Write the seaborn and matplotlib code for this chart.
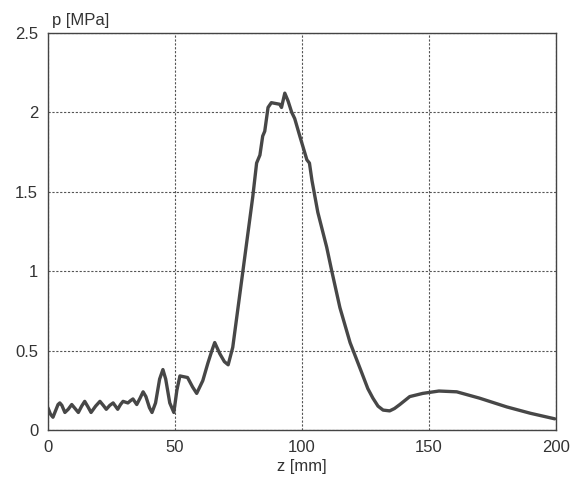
import matplotlib
matplotlib.use("Agg")
import matplotlib.pyplot as plt
import seaborn as sns
import pandas as pd

z_mm = [0, 1.0, 2, 3.0, 4.0, 4.7, 5.5, 6.7, 8.0, 9.4, 10.7, 12, 13.3, 14.5, 15.8, 17,
        18.8, 20.5, 21.8, 23, 24.4, 25.7, 26.6, 27.5, 28.6, 29.6, 31.5, 32.6, 33.5, 35,
        36.3, 37.5, 38.6, 40, 41, 42.4, 44, 45.3, 46.4, 48, 49.6, 50.8, 52, 55, 57, 58.6,
        61, 63, 64.6, 65.7, 67.7, 69.5, 71, 72.8, 76.8, 80.7,
        82.2, 83.5, 84.6, 85.4, 86.7, 88, 91.3, 92, 93.3, 94.6, 96, 97.2, 99.2, 102, 103,
        104, 106.3, 109.8, 111.8, 115, 119, 123.6, 126, 128, 130, 132, 134.6, 136.5, 138.6,
        142.5, 147.6, 154, 161, 170, 180.7, 190, 199.6]
p_mpa = [0.14, 0.10, 0.08, 0.12, 0.16, 0.17, 0.155, 0.11, 0.13, 0.16, 0.135, 0.11, 0.15,
         0.18, 0.145, 0.11, 0.15, 0.18, 0.155, 0.13, 0.155, 0.17, 0.15, 0.13, 0.16, 0.18,
         0.17, 0.185, 0.195, 0.16, 0.20, 0.24, 0.21, 0.14, 0.11, 0.17, 0.32, 0.38, 0.32,
         0.17, 0.11, 0.25, 0.34, 0.33, 0.27, 0.23, 0.31, 0.42, 0.50, 0.55, 0.48, 0.43, 0.41,
         0.52, 1.0, 1.47, 1.68, 1.73, 1.85, 1.88, 2.03, 2.06, 2.05, 2.03, 2.12, 2.07, 2.0,
         1.96, 1.85, 1.70, 1.68, 1.57, 1.37, 1.15, 1.0, 0.77, 0.55, 0.36, 0.26, 0.20, 0.15,
         0.125, 0.12, 0.135, 0.16, 0.21, 0.23, 0.245, 0.24, 0.20, 0.145, 0.105, 0.07]
x_ticks = [0, 50, 100, 150, 200]
y_ticks = [0, 0.5, 1, 1.5, 2, 2.5]
y_tick_labels = ["0", "0.5", "1", "1.5", "2", "2.5"]

sns.set_theme(style="white")
plt.rcParams['font.family'] = ['Liberation Sans', 'DejaVu Sans']

df = pd.DataFrame({"z": z_mm, "p": p_mpa})
fig = plt.figure(figsize=(5.7, 4.82), dpi=100)
ax = fig.add_axes([0.084, 0.108, 0.891, 0.824])
sns.lineplot(data=df, x="z", y="p", ax=ax, color="#474747", linewidth=2.4)
for ln in ax.get_lines():
    ln.set_solid_joinstyle("round")
ax.set_xlim(0, 200)
ax.set_ylim(0, 2.5)
ax.set_xticks(x_ticks)
ax.set_xticklabels([str(t) for t in x_ticks])
ax.set_yticks(y_ticks)
ax.set_yticklabels(y_tick_labels)
ax.grid(True, color="#555555", linestyle=(0, (2, 1.5)), linewidth=0.8)
for s in ax.spines.values():
    s.set_color("#444444")
    s.set_linewidth(1.0)
ax.tick_params(axis="both", length=0, labelsize=12, colors="#333333", pad=7)
ax.set_xlabel("z [mm]", fontsize=12, color="#333333", labelpad=3)
ax.set_ylabel("")
fig.text(0.091, 0.958, "p [MPa]", fontsize=12, color="#333333", ha="left", va="center")
fig.savefig("out.png", dpi=100, facecolor="white")
